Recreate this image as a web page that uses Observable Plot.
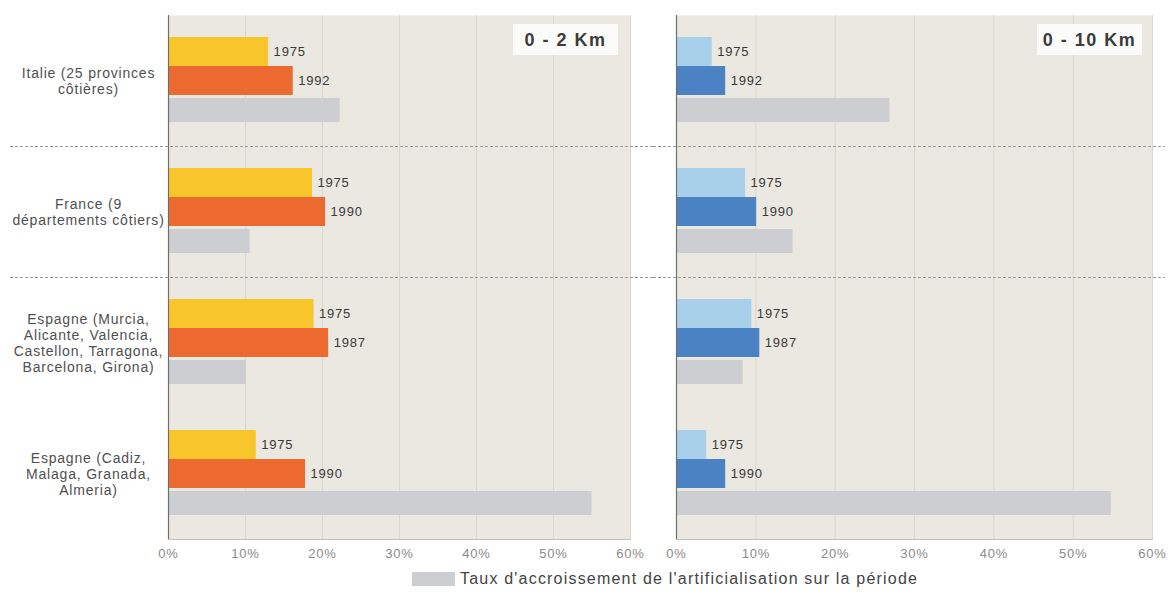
<!DOCTYPE html>
<html>
<head>
<meta charset="utf-8">
<script src="https://cdn.jsdelivr.net/npm/d3@7"></script>
<script src="https://cdn.jsdelivr.net/npm/@observablehq/plot@0.6"></script>
<style>
  body { margin: 0; background: #fff; font-family: "Liberation Sans", Arial, sans-serif; }
  #charts { display: flex; width: 1170px; }
  #legend { display: flex; align-items: center; height: 27px; padding-left: 412px; color: #444; font-size: 16px; letter-spacing: 1.2px; white-space: nowrap; }
  #legend .swatch { width: 43px; height: 14px; background: #cdced2; margin-right: 5px; flex: none; }
</style>
</head>
<body>
<div id="charts"></div>
<div id="legend"><span class="swatch"></span><span id="legend-text"></span></div>
<script>
// Coastal areas compared
const countries = [
  "Italie (25 provinces\ncôtières)",
  "France (9\ndépartements côtiers)",
  "Espagne (Murcia,\nAlicante, Valencia,\nCastellon, Tarragona,\nBarcelona, Girona)",
  "Espagne (Cadiz,\nMalaga, Granada,\nAlmeria)"
];
const startYears = [1975, 1975, 1975, 1975];
const endYears = [1992, 1990, 1987, 1990];

// Share of artificialised land (%) within 2 km of the coast
const coast2kmStart = [13.0, 18.7, 18.9, 11.4];
const coast2kmEnd = [16.2, 20.4, 20.8, 17.8];
const coast2kmGrowth = [22.3, 10.6, 10.1, 55.0];

// Share of artificialised land (%) within 10 km of the coast
const coast10kmStart = [4.5, 8.7, 9.5, 3.8];
const coast10kmEnd = [6.2, 10.1, 10.5, 6.2];
const coast10kmGrowth = [26.9, 14.7, 8.4, 54.8];

const xTicks = [0, 10, 20, 30, 40, 50, 60];
const seriesKeys = ["start", "end", "growth"];
const panelTitles = ["0 - 2 Km", "0 - 10 Km"];
const legendLabel = "Taux d'accroissement de l'artificialisation sur la période";

const FONT = '"Liberation Sans", Arial, sans-serif';

function rowsFor(start, end, growth) {
  return countries.flatMap((country, i) => [
    {country, series: "start", value: start[i], year: startYears[i]},
    {country, series: "end", value: end[i], year: endYears[i]},
    {country, series: "growth", value: growth[i], year: null}
  ]);
}

// Dashed lines between the first groups, spanning the whole panel width
function separators(keys, left, rightInset) {
  return Plot.frame({
    facet: "super",
    render(index, scales, values, dimensions) {
      const {width, marginTop, marginBottom, height} = dimensions;
      const fy = scales.fy;
      const g = d3.create("svg:g")
        .attr("stroke", "#9d9b98")
        .attr("stroke-width", 1)
        .attr("stroke-dasharray", "3,2");
      keys.forEach((k) => {
        let y = fy ? fy(k) : marginTop + countries.indexOf(k) * (height - marginTop - marginBottom) / countries.length;
        y = Math.round(y) + 0.5;
        g.append("line")
          .attr("x1", left).attr("x2", width - rightInset)
          .attr("y1", y).attr("y2", y);
      });
      return g.node();
    }
  });
}

// Boxed distance label in the top-right corner of a panel
function titleBox(title, rightGap) {
  return Plot.frame({
    facet: "super",
    render(index, scales, values, dimensions) {
      const {width, marginRight, marginTop} = dimensions;
      const w = 105, h = 31;
      const x2 = width - marginRight - rightGap;
      const y1 = marginTop + 9;
      const g = d3.create("svg:g");
      g.append("rect")
        .attr("x", x2 - w).attr("y", y1)
        .attr("width", w).attr("height", h)
        .attr("fill", "#fbfbfa");
      g.append("text")
        .attr("x", x2 - w / 2).attr("y", y1 + h / 2)
        .attr("dy", "0.36em")
        .attr("text-anchor", "middle")
        .attr("font-weight", "bold")
        .attr("font-size", 18)
        .attr("letter-spacing", "1.5px")
        .attr("fill", "#3c3c3c")
        .text(title);
      return g.node();
    }
  });
}

function panel({rows, title, colors, width, marginLeft, marginRight, withCountries, sepLeft, sepRightInset, titleGap}) {
  const bars = rows.filter((d) => d.series !== "growth");
  const growth = rows.filter((d) => d.series === "growth");
  return Plot.plot({
    width,
    height: 565,
    marginTop: 13,
    marginBottom: 25,
    marginLeft,
    marginRight,
    style: {fontFamily: FONT, letterSpacing: "0.8px", background: "transparent", overflow: "visible"},
    x: {domain: [0, 60]},
    y: {domain: seriesKeys, paddingInner: 0, paddingOuter: 0.7, axis: null},
    fy: {domain: countries, padding: 0, axis: null},
    color: {domain: seriesKeys, range: colors},
    marks: [
      Plot.frame({facet: "super", fill: "#ebe7e1", stroke: null}),
      Plot.ruleX(xTicks, {stroke: "#d9d5cf", strokeWidth: 1}),
      Plot.frame({facet: "super", anchor: "bottom", stroke: "#c2beb8"}),
      separators(countries.slice(1, 3), sepLeft, sepRightInset),
      Plot.barX(bars, {fy: "country", y: "series", x: "value", fill: "series"}),
      Plot.barX(growth, {fy: "country", y: "series", x: "value", fill: "series", insetTop: 3, insetBottom: 2}),
      Plot.text(bars, {
        fy: "country", y: "series", x: "value",
        text: (d) => String(d.year),
        textAnchor: "start", dx: 5, fontSize: 13, fill: "#3a3a3a"
      }),
      Plot.ruleX([0], {stroke: "#6e6e6e", strokeWidth: 1.2}),
      ...(withCountries ? [Plot.text(countries, {
        fy: (d) => d, text: (d) => d,
        frameAnchor: "left", dx: -80, textAnchor: "middle",
        lineHeight: 1.15, fontSize: 14, fill: "#505050"
      })] : []),
      Plot.axisX(xTicks, {
        tickSize: 0, tickPadding: 9, tickFormat: (d) => d + "%",
        fontSize: 13, color: "#8a8a8a", label: null
      }),
      titleBox(title, titleGap)
    ]
  });
}

const charts = document.getElementById("charts");

charts.append(panel({
  rows: rowsFor(coast2kmStart, coast2kmEnd, coast2kmGrowth),
  title: panelTitles[0],
  colors: ["#f8c62a", "#ec6a30", "#cdced2"],
  width: 653, marginLeft: 168, marginRight: 23,
  withCountries: true, sepLeft: 10, sepRightInset: 0, titleGap: 12
}));

charts.append(panel({
  rows: rowsFor(coast10kmStart, coast10kmEnd, coast10kmGrowth),
  title: panelTitles[1],
  colors: ["#a8d0ea", "#4a82c3", "#cdced2"],
  width: 517, marginLeft: 23, marginRight: 18,
  withCountries: false, sepLeft: 0, sepRightInset: 5, titleGap: 10
}));

document.getElementById("legend-text").textContent = legendLabel;
</script>
</body>
</html>
